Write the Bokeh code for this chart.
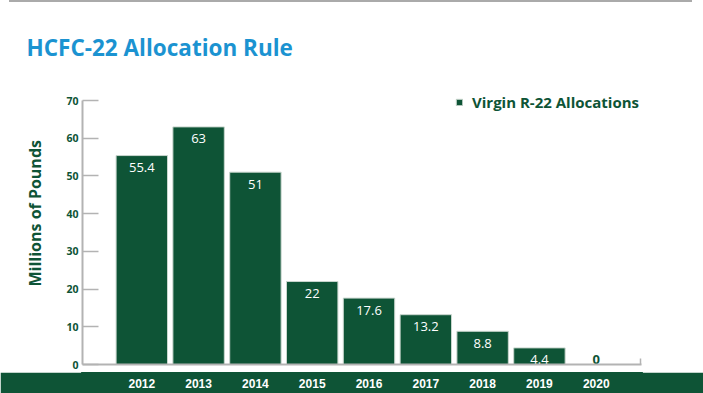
from bokeh.plotting import figure
from bokeh.models import ColumnDataSource, FixedTicker, Legend, LegendItem, Range1d, Title, Div
from bokeh.layouts import column
from bokeh.core.properties import value
from bokeh.embed import file_html
from bokeh.resources import INLINE

# ---- data ----
years = [2012, 2013, 2014, 2015, 2016, 2017, 2018, 2019, 2020]
allocations = [55.4, 63, 51, 22, 17.6, 13.2, 8.8, 4.4, 0]
value_labels = ["55.4", "63", "51", "22", "17.6", "13.2", "8.8", "4.4", "0"]
year_labels = ["2012", "2013", "2014", "2015", "2016", "2017", "2018", "2019", "2020"]
y_ticks = [0, 10, 20, 30, 40, 50, 60, 70]
series_name = "Virgin R-22 Allocations"
title_text = "HCFC-22 Allocation Rule"
y_title = "Millions of Pounds"

GREEN = "#0e5436"
BLUE = "#1b93d1"
GRAY = "#b3b3b3"

W, H_RULE, H_MAIN, H_BAND = 703, 2, 370, 21
B_LEFT, B_RIGHT, B_TOP, B_BOTTOM = 82, 62, 88, 8
y_min, y_max = 0, 70
frame_h = H_MAIN - B_TOP - B_BOTTOM
axis_px = 264                       # pixels spanned by 0..70
y_top = y_min + (y_max - y_min) * frame_h / axis_px
x_start, x_end = 2010.956, 2020.797

# thin grey rule at the very top
rule = Div(text="", width=683, height=H_RULE, margin=(0, 11, 0, 9),
           styles={"background-color": "#aaaaaa"})

p = figure(width=W, height=H_MAIN, output_backend="svg", toolbar_location=None,
           x_range=Range1d(x_start, x_end), y_range=Range1d(y_min, y_top),
           min_border_left=B_LEFT, min_border_right=B_RIGHT,
           min_border_top=B_TOP, min_border_bottom=B_BOTTOM,
           background_fill_color="white", border_fill_color="white")
p.outline_line_color = None
p.grid.visible = False

# title (above)
p.title = Title(text=title_text, align="left", offset=-56, standoff=55,
                text_color=BLUE, text_font="Open Sans", text_font_size="22.5px",
                text_font_style="bold")

src = ColumnDataSource(dict(x=years, top=allocations, lab=value_labels))
bars = p.vbar(x="x", top="top", width=0.905, source=src, fill_color=GREEN,
              line_color="#c9d6ce", line_width=1)

inside = [i for i, v in enumerate(allocations) if v > 0]
zero = [i for i, v in enumerate(allocations) if v <= 0]
src_in = ColumnDataSource(dict(x=[years[i] for i in inside], y=[allocations[i] for i in inside],
                               t=[value_labels[i] for i in inside]))
src_zero = ColumnDataSource(dict(x=[years[i] for i in zero], y=[allocations[i] for i in zero],
                                 t=[value_labels[i] for i in zero]))
p.text(x="x", y="y", text="t", source=src_in, text_color="white", text_align="center",
       text_baseline="middle", y_offset=12, text_font=value("Open Sans"),
       text_font_size="13px")
p.text(x="x", y="y", text="t", source=src_zero, text_color=GREEN, text_align="center",
       text_baseline="bottom", y_offset=-1, text_font=value("Open Sans"),
       text_font_size="13px", text_font_style="bold")

# y axis
ya = p.yaxis[0]
ya.ticker = FixedTicker(ticks=y_ticks)
ya.bounds = (y_min, y_max)
ya.axis_line_color = GRAY
ya.axis_line_width = 2
ya.major_tick_line_color = GRAY
ya.major_tick_line_width = 1.5
ya.major_tick_in = 16
ya.major_tick_out = 0
ya.minor_tick_line_color = None
ya.major_label_standoff = 4
ya.major_label_text_color = GREEN
ya.major_label_text_font = "Open Sans"
ya.major_label_text_font_style = "bold"
ya.major_label_text_font_size = "10.5px"

# y title on the left side
p.add_layout(Title(text=y_title, align="left", offset=78, standoff=36,
                   text_color=GREEN, text_font="Open Sans", text_font_size="16px",
                   text_font_style="bold"), "left")

# x axis: line with end tick only
end_tick = x_end - 0.01
xa = p.xaxis[0]
xa.ticker = FixedTicker(ticks=[end_tick])
xa.major_label_overrides = {end_tick: ""}
xa.major_label_text_font_size = "0px"
xa.major_label_standoff = 0
xa.axis_line_color = GRAY
xa.axis_line_width = 2
xa.major_tick_line_color = GRAY
xa.major_tick_line_width = 1.5
xa.major_tick_in = 6
xa.major_tick_out = 0
xa.minor_tick_line_color = None

legend = Legend(items=[LegendItem(label=series_name, renderers=[bars])],
                location=(373, 252), padding=0, margin=0, spacing=0,
                glyph_width=8, glyph_height=8, label_standoff=9,
                label_text_color=GREEN, label_text_font="Open Sans",
                label_text_font_size="15px", label_text_font_style="bold",
                border_line_color=None, background_fill_alpha=0)
p.add_layout(legend)

# bottom band with year labels (frames of the column are aligned, so share the x range)
b = figure(width=W, height=H_BAND, output_backend="svg", toolbar_location=None,
           x_range=p.x_range, y_range=Range1d(0, 1),
           x_axis_location=None, y_axis_location=None,
           min_border_left=B_LEFT, min_border_right=B_RIGHT, min_border_top=0, min_border_bottom=0,
           background_fill_color=GREEN, border_fill_color=GREEN)
b.outline_line_color = GREEN
b.outline_line_width = 3
b.grid.visible = False
b.text(x=years, y=[0.5] * len(years), text=year_labels, text_color="white",
       text_align="center", text_baseline="middle", text_font=value("Liberation Sans"),
       text_font_size="12px", text_font_style="bold")

layout = column(rule, p, b, spacing=0)
open("out.html", "w").write(file_html(layout, INLINE))
